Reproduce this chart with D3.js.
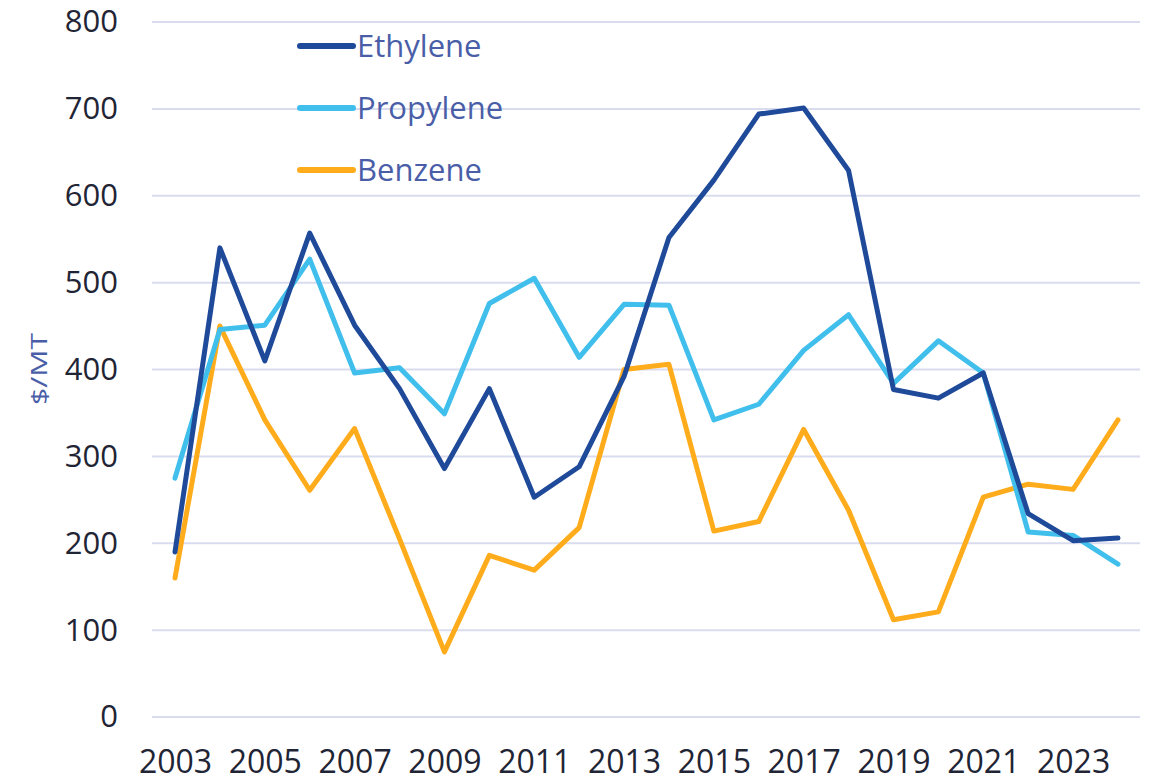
<!DOCTYPE html>
<html>
<head>
<meta charset="utf-8">
<script src="https://cdn.jsdelivr.net/npm/d3@7"></script>
<style>
  body { margin: 0; background: #fff; }
  text { font-family: "Open Sans", sans-serif; }
</style>
</head>
<body>
<div id="chart"></div>
<script>
// chart data
var years = [2003, 2004, 2005, 2006, 2007, 2008, 2009, 2010, 2011, 2012, 2013,
  2014, 2015, 2016, 2017, 2018, 2019, 2020, 2021, 2022, 2023, 2024];
var ethylene = [190, 540, 410, 557, 451, 378, 286, 378, 253, 288, 392,
  552, 618, 694, 701, 629, 377, 367, 396, 234, 203, 206];
var propylene = [275, 446, 451, 527, 396, 402, 349, 476, 505, 414, 475,
  474, 342, 360, 422, 463, 384, 433, 396, 213, 209, 176];
var benzene = [160, 450, 342, 261, 332, 205, 75, 186, 169, 218, 400,
  406, 214, 225, 331, 238, 112, 121, 253, 268, 262, 342];
var yTicks = [0, 100, 200, 300, 400, 500, 600, 700, 800];
var xTicks = [2003, 2005, 2007, 2009, 2011, 2013, 2015, 2017, 2019, 2021, 2023];

var series = [
  { name: "Ethylene", values: ethylene, color: "#1f4a9a" },
  { name: "Propylene", values: propylene, color: "#41bfec" },
  { name: "Benzene", values: benzene, color: "#ffac1c" }
];

var svgWidth = 1149;
var svgHeight = 781;

var svg = d3.select("#chart")
  .append("svg")
  .attr("width", svgWidth)
  .attr("height", svgHeight);

var x = d3.scaleLinear()
  .domain([2003, 2024])
  .range([175, 1118]);

var y = d3.scaleLinear()
  .domain([0, 800])
  .range([717, 22]);

// gridlines
svg.append("g")
  .selectAll("line")
  .data(yTicks)
  .enter()
  .append("line")
  .attr("x1", 152)
  .attr("x2", 1140)
  .attr("y1", d => y(d))
  .attr("y2", d => y(d))
  .attr("stroke", "#d9dcee")
  .attr("stroke-width", 2);

// y axis labels
var yAxis = svg.append("g")
  .attr("transform", "translate(118,0)")
  .call(d3.axisLeft(y).tickValues(yTicks).tickSize(0).tickPadding(0));
yAxis.select(".domain").remove();
yAxis.selectAll("text")
  .attr("font-family", "Open Sans, sans-serif")
  .attr("font-size", 31)
  .attr("fill", "#1f2535");

// x axis labels
var xAxis = svg.append("g")
  .attr("transform", "translate(0,750)")
  .call(d3.axisBottom(x).tickValues(xTicks).tickFormat(d3.format("d")).tickSize(0).tickPadding(0));
xAxis.select(".domain").remove();
xAxis.selectAll("text")
  .attr("font-family", "Open Sans, sans-serif")
  .attr("font-size", 32)
  .attr("fill", "#1f2535");

// y axis title (reference is stretched along its length)
svg.append("text")
  .attr("transform", "translate(47,369) rotate(-90)")
  .attr("text-anchor", "middle")
  .attr("font-size", 22)
  .attr("textLength", 72)
  .attr("lengthAdjust", "spacingAndGlyphs")
  .attr("fill", "#4a5ea8")
  .text("$/MT");

// lines
var line = d3.line()
  .x((d, i) => x(years[i]))
  .y(d => y(d));

svg.append("g")
  .selectAll("path")
  .data(series.slice().reverse())
  .enter()
  .append("path")
  .attr("d", d => line(d.values))
  .attr("fill", "none")
  .attr("stroke", d => d.color)
  .attr("stroke-width", 5)
  .attr("stroke-linejoin", "round")
  .attr("stroke-linecap", "round");

// legend
var legend = svg.append("g")
  .selectAll("g")
  .data(series)
  .enter()
  .append("g")
  .attr("transform", (d, i) => `translate(300, ${46 + i * 62})`);

legend.append("line")
  .attr("x1", 0)
  .attr("x2", 53)
  .attr("stroke", d => d.color)
  .attr("stroke-width", 6)
  .attr("stroke-linecap", "round");

legend.append("text")
  .attr("x", 57)
  .attr("dy", "0.35em")
  .attr("font-size", 31)
  .attr("fill", "#4a5ea8")
  .text(d => d.name);
</script>
</body>
</html>
